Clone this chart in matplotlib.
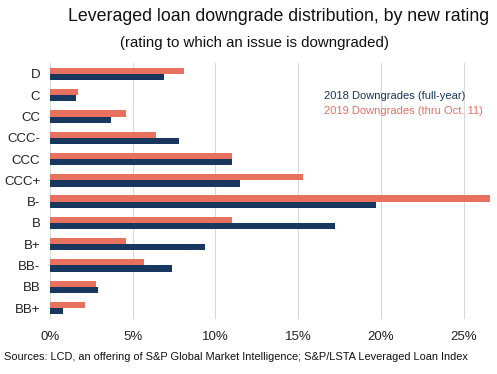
import matplotlib
matplotlib.use('Agg')
import matplotlib.pyplot as plt
import numpy as np

# valores (porcentaje de downgrades por nueva calificacion)
ratings = ["D", "C", "CC", "CCC-", "CCC", "CCC+", "B-", "B", "B+", "BB-", "BB", "BB+"]
dg_2018 = [6.9, 1.6, 3.7, 7.8, 11.0, 11.5, 19.7, 17.2, 9.4, 7.4, 2.9, 0.8]
dg_2019 = [8.1, 1.7, 4.6, 6.4, 11.0, 15.3, 26.6, 11.0, 4.6, 5.7, 2.8, 2.1]
xticks = [0, 5, 10, 15, 20, 25]

navy = "#17375e"
salmon = "#e8705f"
fuente = ["Liberation Sans Narrow", "Liberation Sans", "DejaVu Sans"]

fig = plt.figure(figsize=(4.97, 3.74), dpi=100, facecolor='white')
ax = fig.add_axes([0.1006, 0.148, 0.8853, 0.6826])

y = np.arange(len(ratings))
h = 0.29
ax.barh(y - h / 2, dg_2019, height=h, color=salmon, zorder=3)
ax.barh(y + h / 2, dg_2018, height=h, color=navy, zorder=3)

ax.set_ylim(len(ratings) - 0.5, -0.5)
ax.set_xlim(0, 26.6)
ax.set_yticks(y)
ax.set_yticklabels(ratings, fontsize=9.5, family=fuente, color="#222222")
ax.set_xticks(xticks)
ax.set_xticklabels([f"{t}%" for t in xticks], fontsize=9.5, family=fuente, color="#222222")
ax.tick_params(length=0)
ax.tick_params(axis='y', pad=7)
ax.tick_params(axis='x', pad=9)
ax.grid(axis='x', color="#d9d9d9", linewidth=0.8, zorder=0)
for s in ax.spines.values():
    s.set_visible(False)

fig.text(0.561, 0.955, "Leveraged loan downgrade distribution, by new rating",
         ha='center', va='center', fontsize=12.8, family=fuente, color="#111111")
fig.text(0.513, 0.885, "(rating to which an issue is downgraded)",
         ha='center', va='center', fontsize=10.8, family=fuente, color="#111111")

fig.text(0.652, 0.744, "2018 Downgrades (full-year)", ha='left', va='center',
         fontsize=8, family=fuente, color=navy)
fig.text(0.652, 0.703, "2019 Downgrades (thru Oct. 11)", ha='left', va='center',
         fontsize=8, family=fuente, color=salmon)

fig.text(0.008, 0.045, "Sources: LCD, an offering of S&P Global Market Intelligence; S&P/LSTA Leveraged Loan Index",
         ha='left', va='center', fontsize=7.9, family=fuente, color="#111111")

plt.savefig("out.png", dpi=100, facecolor='white')
